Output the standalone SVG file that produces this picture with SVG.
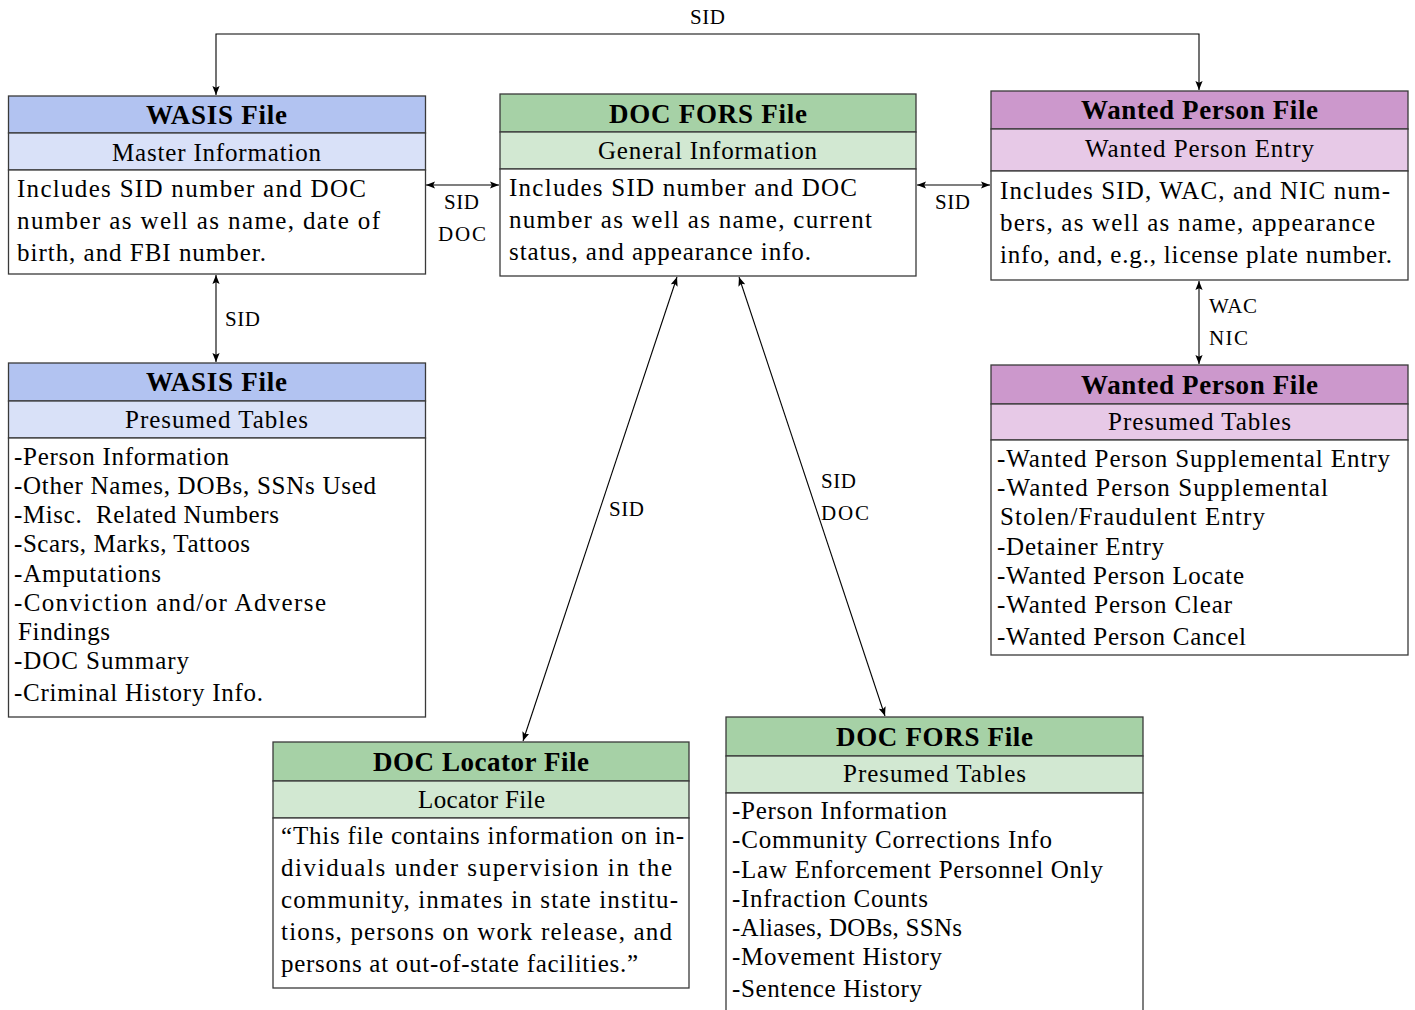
<svg xmlns="http://www.w3.org/2000/svg" width="1415" height="1010" viewBox="0 0 1415 1010">
<style>
text{font-family:"Liberation Serif","Times New Roman",serif;fill:#000}
.h{font-size:27px;font-weight:bold}
.s{font-size:25px}
.b{font-size:25px}
.l{font-size:21px}
.box{stroke:#3a3a3a;stroke-width:1.3}
.hb{fill:#b2c3f1}.sb{fill:#d9e1f8}
.hg{fill:#a6d1a6}.sg{fill:#d2e8d2}
.hp{fill:#cc98cc}.sp{fill:#e7c9e7}
.w{fill:#fff}
.c{fill:none;stroke:#000;stroke-width:1.1;marker-start:url(#a);marker-end:url(#a)}
.c1{fill:none;stroke:#000;stroke-width:1.1;marker-end:url(#a)}
</style>
<defs>
<marker id="a" viewBox="0 0 10 8" refX="10" refY="4" markerWidth="9" markerHeight="7.2" markerUnits="userSpaceOnUse" orient="auto-start-reverse">
<path d="M0,0 L10,4 L0,8 L2,4 Z" fill="#000"/>
</marker>
</defs>
<rect width="1415" height="1010" fill="#fff"/>

<g id="connectors">
<path class="c" d="M216,95 V34 H1199 V90" style="marker-start:url(#a)"/>
<line class="c" x1="426" y1="185" x2="499" y2="185"/>
<line class="c" x1="917" y1="185" x2="990" y2="185"/>
<line class="c" x1="216" y1="275" x2="216" y2="362"/>
<line class="c" x1="1199" y1="281" x2="1199" y2="364"/>
<line class="c" x1="677" y1="277" x2="523" y2="741"/>
<line class="c" x1="739" y1="277" x2="885" y2="716"/>
<text class="l" x="690" y="24" textLength="35">SID</text>
<text class="l" x="444" y="209" textLength="35">SID</text>
<text class="l" x="438" y="241" textLength="48">DOC</text>
<text class="l" x="935" y="209" textLength="35">SID</text>
<text class="l" x="225" y="326" textLength="35">SID</text>
<text class="l" x="1209" y="313" textLength="48">WAC</text>
<text class="l" x="1209" y="345" textLength="39">NIC</text>
<text class="l" x="609" y="516" textLength="35">SID</text>
<text class="l" x="821" y="488" textLength="35">SID</text>
<text class="l" x="821" y="520" textLength="48">DOC</text>
</g>

<g id="wasis-master">
<rect class="box hb" x="8.5" y="96" width="417" height="37"/>
<rect class="box sb" x="8.5" y="133" width="417" height="37"/>
<rect class="box w" x="8.5" y="170" width="417" height="104"/>
<text class="h" x="146" y="124" textLength="141">WASIS File</text>
<text class="s" x="112" y="161" textLength="209">Master Information</text>
<text class="b" x="17" y="197" textLength="349">Includes SID number and DOC</text>
<text class="b" x="17" y="229" textLength="363">number as well as name, date of</text>
<text class="b" x="17" y="261" textLength="249">birth, and FBI number.</text>
</g>

<g id="docfors-general">
<rect class="box hg" x="500" y="94" width="416" height="38"/>
<rect class="box sg" x="500" y="132" width="416" height="37"/>
<rect class="box w" x="500" y="169" width="416" height="107"/>
<text class="h" x="609" y="123" textLength="198">DOC FORS File</text>
<text class="s" x="598" y="159" textLength="219">General Information</text>
<text class="b" x="509" y="196" textLength="348">Includes SID number and DOC</text>
<text class="b" x="509" y="228" textLength="363">number as well as name, current</text>
<text class="b" x="509" y="260" textLength="302">status, and appearance info.</text>
</g>

<g id="wanted-entry">
<rect class="box hp" x="991" y="91" width="417" height="38"/>
<rect class="box sp" x="991" y="129" width="417" height="42"/>
<rect class="box w" x="991" y="171" width="417" height="109"/>
<text class="h" x="1081" y="119" textLength="237">Wanted Person File</text>
<text class="s" x="1085" y="157" textLength="229">Wanted Person Entry</text>
<text class="b" x="1000" y="199" textLength="390">Includes SID, WAC, and NIC num-</text>
<text class="b" x="1000" y="231" textLength="375">bers, as well as name, appearance</text>
<text class="b" x="1000" y="263" textLength="392">info, and, e.g., license plate number.</text>
</g>

<g id="wasis-tables">
<rect class="box hb" x="8.5" y="363" width="417" height="38"/>
<rect class="box sb" x="8.5" y="401" width="417" height="37"/>
<rect class="box w" x="8.5" y="438" width="417" height="279"/>
<text class="h" x="146" y="391" textLength="141">WASIS File</text>
<text class="s" x="125" y="428" textLength="183">Presumed Tables</text>
<text class="b" x="14" y="465" textLength="215">-Person Information</text>
<text class="b" x="14" y="494" textLength="362">-Other Names, DOBs, SSNs Used</text>
<text class="b" x="14" y="523" textLength="265">-Misc.&#160; Related Numbers</text>
<text class="b" x="14" y="552" textLength="236">-Scars, Marks, Tattoos</text>
<text class="b" x="14" y="582" textLength="147">-Amputations</text>
<text class="b" x="14" y="611" textLength="312">-Conviction and/or Adverse</text>
<text class="b" x="18" y="640" textLength="92">Findings</text>
<text class="b" x="14" y="669" textLength="175">-DOC Summary</text>
<text class="b" x="14" y="701" textLength="249">-Criminal History Info.</text>
</g>

<g id="wanted-tables">
<rect class="box hp" x="991" y="365" width="417" height="39"/>
<rect class="box sp" x="991" y="404" width="417" height="36"/>
<rect class="box w" x="991" y="440" width="417" height="215"/>
<text class="h" x="1081" y="394" textLength="237">Wanted Person File</text>
<text class="s" x="1108" y="430" textLength="183">Presumed Tables</text>
<text class="b" x="997" y="467" textLength="393">-Wanted Person Supplemental Entry</text>
<text class="b" x="997" y="496" textLength="331">-Wanted Person Supplemental</text>
<text class="b" x="1000" y="525" textLength="265">Stolen/Fraudulent Entry</text>
<text class="b" x="997" y="555" textLength="167">-Detainer Entry</text>
<text class="b" x="997" y="584" textLength="247">-Wanted Person Locate</text>
<text class="b" x="997" y="613" textLength="235">-Wanted Person Clear</text>
<text class="b" x="997" y="645" textLength="249">-Wanted Person Cancel</text>
</g>

<g id="doc-locator">
<rect class="box hg" x="273" y="742" width="416" height="39"/>
<rect class="box sg" x="273" y="781" width="416" height="37"/>
<rect class="box w" x="273" y="818" width="416" height="170"/>
<text class="h" x="373" y="771" textLength="216">DOC Locator File</text>
<text class="s" x="418" y="808" textLength="127">Locator File</text>
<text class="b" x="281" y="844" textLength="403">“This file contains information on in-</text>
<text class="b" x="281" y="876" textLength="391">dividuals under supervision in the</text>
<text class="b" x="281" y="908" textLength="397">community, inmates in state institu-</text>
<text class="b" x="281" y="940" textLength="391">tions, persons on work release, and</text>
<text class="b" x="281" y="972" textLength="357">persons at out-of-state facilities.”</text>
</g>

<g id="docfors-tables">
<rect class="box hg" x="726" y="717" width="417" height="39"/>
<rect class="box sg" x="726" y="756" width="417" height="37"/>
<rect class="box w" x="726" y="793" width="417" height="230"/>
<text class="h" x="836" y="746" textLength="197">DOC FORS File</text>
<text class="s" x="843" y="782" textLength="183">Presumed Tables</text>
<text class="b" x="732" y="819" textLength="215">-Person Information</text>
<text class="b" x="732" y="848" textLength="320">-Community Corrections Info</text>
<text class="b" x="732" y="878" textLength="371">-Law Enforcement Personnel Only</text>
<text class="b" x="732" y="907" textLength="196">-Infraction Counts</text>
<text class="b" x="732" y="936" textLength="230">-Aliases, DOBs, SSNs</text>
<text class="b" x="732" y="965" textLength="210">-Movement History</text>
<text class="b" x="732" y="997" textLength="190">-Sentence History</text>
</g>
</svg>
